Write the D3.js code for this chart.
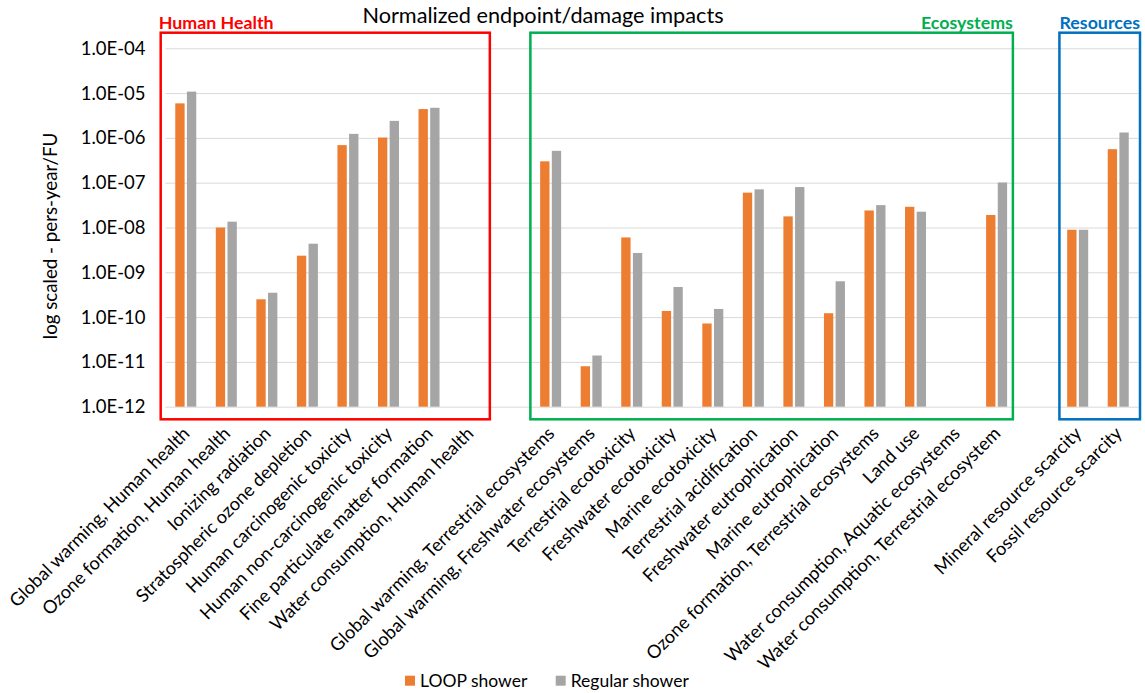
<!DOCTYPE html>
<html>
<head>
<meta charset="utf-8">
<script src="https://cdn.jsdelivr.net/npm/d3@7"></script>
<style>
  body { margin: 0; background: #fff; }
  svg { display: block; }
  text { font-family: Lato, "Open Sans", sans-serif; }
</style>
</head>
<body>
<svg id="chart" width="1145" height="693"></svg>
<script>
// ---- Data -------------------------------------------------------------
const categories = [
  "Global warming, Human health",
  "Ozone formation, Human health",
  "Ionizing radiation",
  "Stratospheric ozone depletion",
  "Human carcinogenic toxicity",
  "Human non-carcinogenic toxicity",
  "Fine particulate matter formation",
  "Water consumption, Human health",
  "Global warming, Terrestrial ecosystems",
  "Global warming, Freshwater ecosystems",
  "Terrestrial ecotoxicity",
  "Freshwater ecotoxicity",
  "Marine ecotoxicity",
  "Terrestrial acidification",
  "Freshwater eutrophication",
  "Marine eutrophication",
  "Ozone formation, Terrestrial ecosystems",
  "Land use",
  "Water consumption, Aquatic ecosystems",
  "Water consumption, Terrestrial ecosystem",
  "Mineral resource scarcity",
  "Fossil resource scarcity"
];
const groupNames = ["Human Health", "Ecosystems", "Resources"];
const groupSizes = [8, 12, 2];
const seriesNames = ["LOOP shower", "Regular shower"];
// normalized damage, pers-year per functional unit (null = not reported)
const loopShower = [
  5.9e-6, 1.0e-8, 2.5e-10, 2.35e-9, 6.9e-7, 1.02e-6, 4.4e-6, null,
  3.0e-7, 8.0e-12, 6.0e-9, 1.37e-10, 7.2e-11, 6.0e-8, 1.77e-8, 1.22e-10,
  2.4e-8, 2.9e-8, null, 1.9e-8,
  8.9e-9, 5.6e-7
];
const regularShower = [
  1.08e-5, 1.35e-8, 3.5e-10, 4.35e-9, 1.23e-6, 2.4e-6, 4.7e-6, null,
  5.15e-7, 1.39e-11, 2.7e-9, 4.7e-10, 1.52e-10, 7.1e-8, 8.0e-8, 6.3e-10,
  3.16e-8, 2.25e-8, null, 1.01e-7,
  8.9e-9, 1.32e-6
];
const yTicks = [1e-12, 1e-11, 1e-10, 1e-9, 1e-8, 1e-7, 1e-6, 1e-5, 1e-4];

// ---- Styles -----------------------------------------------------------
const seriesColors = ["#ED7D31", "#A5A5A5"];
const groupStyle = [
  { color: "#FF0000", padL: -4.8, padR: 0,    labelAnchor: "start" },
  { color: "#00B050", padL: 0,    padR: -4,   labelAnchor: "end" },
  { color: "#0070C0", padL: 2,    padR: 1.5,  labelAnchor: "end" }
];

// ---- Layout -----------------------------------------------------------
const svg = d3.select("#chart");
const plot = { left: 165.5, right: 1138.5, top: 48.3, bottom: 406.7 };

// Category slots, with an empty slot separating the impact groups
const slots = [];
let ci = 0;
groupSizes.forEach((n, g) => {
  if (g > 0) slots.push({ key: "gap" + g, label: "", gap: true });
  for (let k = 0; k < n; k++, ci++) {
    slots.push({ key: "c" + ci, label: categories[ci], group: g, idx: ci });
  }
});

const x = d3.scaleBand()
  .domain(slots.map(s => s.key))
  .range([plot.left, plot.right]);
const step = x.step();

const xSeries = d3.scaleBand()
  .domain(seriesNames)
  .range([step / 2 - 10.5, step / 2 + 10.5])
  .paddingInner(0.2);

const y = d3.scaleLog()
  .domain([1e-12, 1e-4])
  .range([plot.bottom, plot.top]);

const fmtTick = d => "1.0E-" + String(Math.round(-Math.log10(d))).padStart(2, "0");

// ---- Y axis with gridlines -------------------------------------------
const yAxis = svg.append("g")
  .attr("transform", `translate(${plot.left},0)`)
  .call(d3.axisLeft(y)
    .tickValues(yTicks)
    .tickFormat(fmtTick)
    .tickSizeInner(-(plot.right - plot.left))
    .tickSizeOuter(0)
    .tickPadding(20));
yAxis.select(".domain").remove();
yAxis.selectAll(".tick line").attr("stroke", "#D9D9D9").attr("stroke-width", 1);
yAxis.selectAll(".tick text")
  .style("font-size", "18.5px")
  .style("fill", "#000");

// ---- Bars -------------------------------------------------------------
const barData = [];
slots.filter(s => !s.gap).forEach(s => {
  [loopShower, regularShower].forEach((arr, si) => {
    const v = arr[s.idx];
    if (v != null) barData.push({ key: s.key, series: seriesNames[si], value: v, color: seriesColors[si] });
  });
});

svg.append("g").selectAll("rect")
  .data(barData)
  .join("rect")
  .attr("x", d => x(d.key) + xSeries(d.series))
  .attr("width", xSeries.bandwidth())
  .attr("y", d => y(d.value))
  .attr("height", d => y(1e-12) - y(d.value))
  .attr("fill", d => d.color);

// ---- X axis labels (rotated) -----------------------------------------
const xAxis = svg.append("g")
  .attr("transform", `translate(0,${plot.bottom})`)
  .call(d3.axisBottom(x)
    .tickFormat(k => (slots.find(s => s.key === k) || {}).label || "")
    .tickSize(0));
xAxis.select(".domain").remove();
xAxis.selectAll(".tick text")
  .style("font-size", "18.2px")
  .style("fill", "#000")
  .attr("text-anchor", "end")
  .attr("dy", null)
  .attr("y", null)
  .attr("transform", "translate(5,28) rotate(-45)");

// ---- Group boxes ------------------------------------------------------
const boxTop = y(1e-4) - 15.6;
const boxBottom = y(1e-12) + 12.6;
groupNames.forEach((name, g) => {
  const members = slots.filter(s => s.group === g);
  const st = groupStyle[g];
  const x0 = x(members[0].key) + st.padL;
  const x1 = x(members[members.length - 1].key) + step + st.padR;
  svg.append("rect")
    .attr("x", x0).attr("y", boxTop)
    .attr("width", x1 - x0).attr("height", boxBottom - boxTop)
    .attr("fill", "none")
    .attr("stroke", st.color)
    .attr("stroke-width", 2.5);
  svg.append("text")
    .attr("x", st.labelAnchor === "start" ? x0 - 2 : x1)
    .attr("y", 29)
    .attr("text-anchor", st.labelAnchor)
    .style("font-size", "17.8px")
    .style("font-weight", "bold")
    .style("fill", st.color)
    .text(name);
});

// ---- Title and axis title --------------------------------------------
svg.append("text")
  .attr("x", 543).attr("y", 23)
  .attr("text-anchor", "middle")
  .style("font-size", "21.7px")
  .style("fill", "#000")
  .text("Normalized endpoint/damage impacts");

svg.append("text")
  .attr("transform", `translate(57,236) rotate(-90)`)
  .attr("text-anchor", "middle")
  .style("font-size", "18.7px")
  .style("fill", "#000")
  .text("log scaled - pers-year/FU");

// ---- Legend -----------------------------------------------------------
const legendX = [405, 555.7];
const legend = svg.append("g");
seriesNames.forEach((name, i) => {
  legend.append("rect")
    .attr("x", legendX[i]).attr("y", 675.7)
    .attr("width", 10).attr("height", 10)
    .attr("fill", seriesColors[i]);
  legend.append("text")
    .attr("x", legendX[i] + 15).attr("y", 686.5)
    .style("font-size", "17.5px")
    .style("fill", "#000")
    .text(name);
});
</script>
</body>
</html>
